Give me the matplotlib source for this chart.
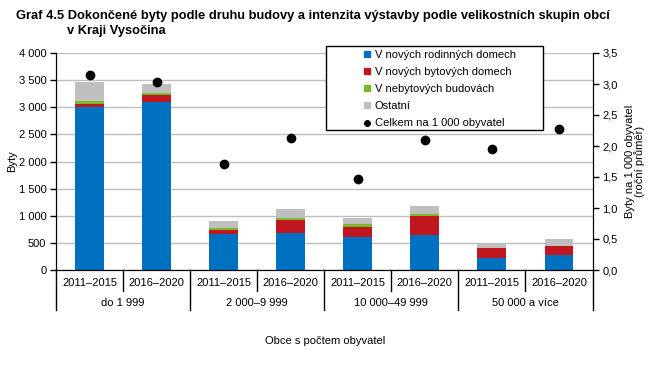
import matplotlib.pyplot as plt
from matplotlib.lines import Line2D
from matplotlib.patches import Rectangle
from matplotlib.ticker import FuncFormatter

plt.rcParams['font.family'] = ['Liberation Sans', 'DejaVu Sans']
plt.rcParams['font.size'] = 8

# data
periods = ['2011–2015', '2016–2020'] * 4
groups = ['do 1 999', '2 000–9 999', '10 000–49 999', '50 000 a více']
rodinne = [3000, 3100, 670, 680, 610, 640, 225, 275]
bytove = [64, 125, 70, 240, 185, 355, 180, 165]
nebytove = [56, 45, 35, 45, 55, 35, 5, 5]
ostatni = [350, 150, 130, 160, 110, 150, 85, 135]
na_1000 = [3.15, 3.03, 1.71, 2.13, 1.47, 2.10, 1.95, 2.27]

series = [
    ('V nových rodinných domech', rodinne, '#0070C0'),
    ('V nových bytových domech', bytove, '#C0161F'),
    ('V nebytových budovách', nebytove, '#7AB929'),
    ('Ostatní', ostatni, '#BFBFBF'),
]

fig = plt.figure(figsize=(6.5, 3.66), dpi=100)
ax = fig.add_axes([56 / 650, 1 - 270 / 366, 536.5 / 650, 217 / 366])
x = list(range(len(periods)))

bottom = [0] * len(x)
for name, vals, col in series:
    ax.bar(x, vals, width=0.43, bottom=bottom, color=col, zorder=2)
    bottom = [b + v for b, v in zip(bottom, vals)]

ax.set_xlim(-0.5, 7.5)
ax.set_ylim(0, 4000)
ax.set_yticks(range(0, 4001, 500))
ax.yaxis.set_major_formatter(FuncFormatter(lambda v, p: f'{int(v):,}'.replace(',', ' ')))
ax.grid(axis='y', color='#BEBEBE', linewidth=1, zorder=0)
ax.set_axisbelow(True)
ax.spines['top'].set_visible(False)
ax.set_ylabel('Byty', labelpad=1)
ax.tick_params(axis='y', length=4, width=1, pad=3)
ax.set_xticks(x)
ax.set_xticklabels(periods)
ax.tick_params(axis='x', length=0, pad=6)

# oddělovače kategorií na ose x
tr = ax.get_xaxis_transform()
for i in range(1, 8, 2):
    ax.plot([i - 0.5, i - 0.5], [0, -0.097], color='black', lw=1, transform=tr, clip_on=False)
for i in range(-1, 8, 2):
    ax.plot([i + 0.5, i + 0.5], [0, -0.185], color='black', lw=1, transform=tr, clip_on=False)
for j, g in enumerate(groups):
    ax.text(2 * j + 0.5, -0.15, g, transform=tr, ha='center', va='center')

ax2 = ax.twinx()
ax2.set_ylim(0, 3.5)
ax2.set_yticks([i * 0.5 for i in range(8)])
ax2.yaxis.set_major_formatter(FuncFormatter(lambda v, p: f'{v:.1f}'.replace('.', ',')))
ax2.scatter(x, na_1000, s=36, color='black', zorder=3)
ax2.spines['top'].set_visible(False)
ax2.tick_params(axis='y', length=4, width=1, pad=3)
ax2.set_ylabel('Byty na 1 000 obyvatel\n(roční průměr)', linespacing=0.9, labelpad=5)

# legenda
ax2.add_patch(Rectangle((0.503, 0.645), 0.405, 0.388, transform=ax.transAxes,
                        facecolor='white', edgecolor='black', lw=1, zorder=5, clip_on=False))
handles = [Line2D([], [], marker='s', ls='none', color=c, markersize=4.5) for _, _, c in series]
handles.append(Line2D([], [], marker='o', ls='none', color='black', markersize=4))
labels = [n for n, _, _ in series] + ['Celkem na 1 000 obyvatel']
leg = ax2.legend(handles, labels, loc='upper left', bbox_to_anchor=(0.55, 1.06), frameon=False,
                 handlelength=1, handletextpad=0.25, labelspacing=0.64, borderpad=0.4)
leg.set_zorder(6)

fig.text(0.5, 1 - 341 / 366, 'Obce s počtem obyvatel', ha='center', va='center')
title_font = dict(fontsize=9.3, fontweight='bold', family=['Liberation Sans Narrow', 'Liberation Sans'])
fig.text(16 / 650, 1 - 16 / 366,
         'Graf 4.5 Dokončené byty podle druhu budovy a intenzita výstavby podle velikostních skupin obcí',
         ha='left', va='center', **title_font)
fig.text(67 / 650, 1 - 31 / 366, 'v Kraji Vysočina', ha='left', va='center', **title_font)

fig.savefig('out.png', dpi=100)
